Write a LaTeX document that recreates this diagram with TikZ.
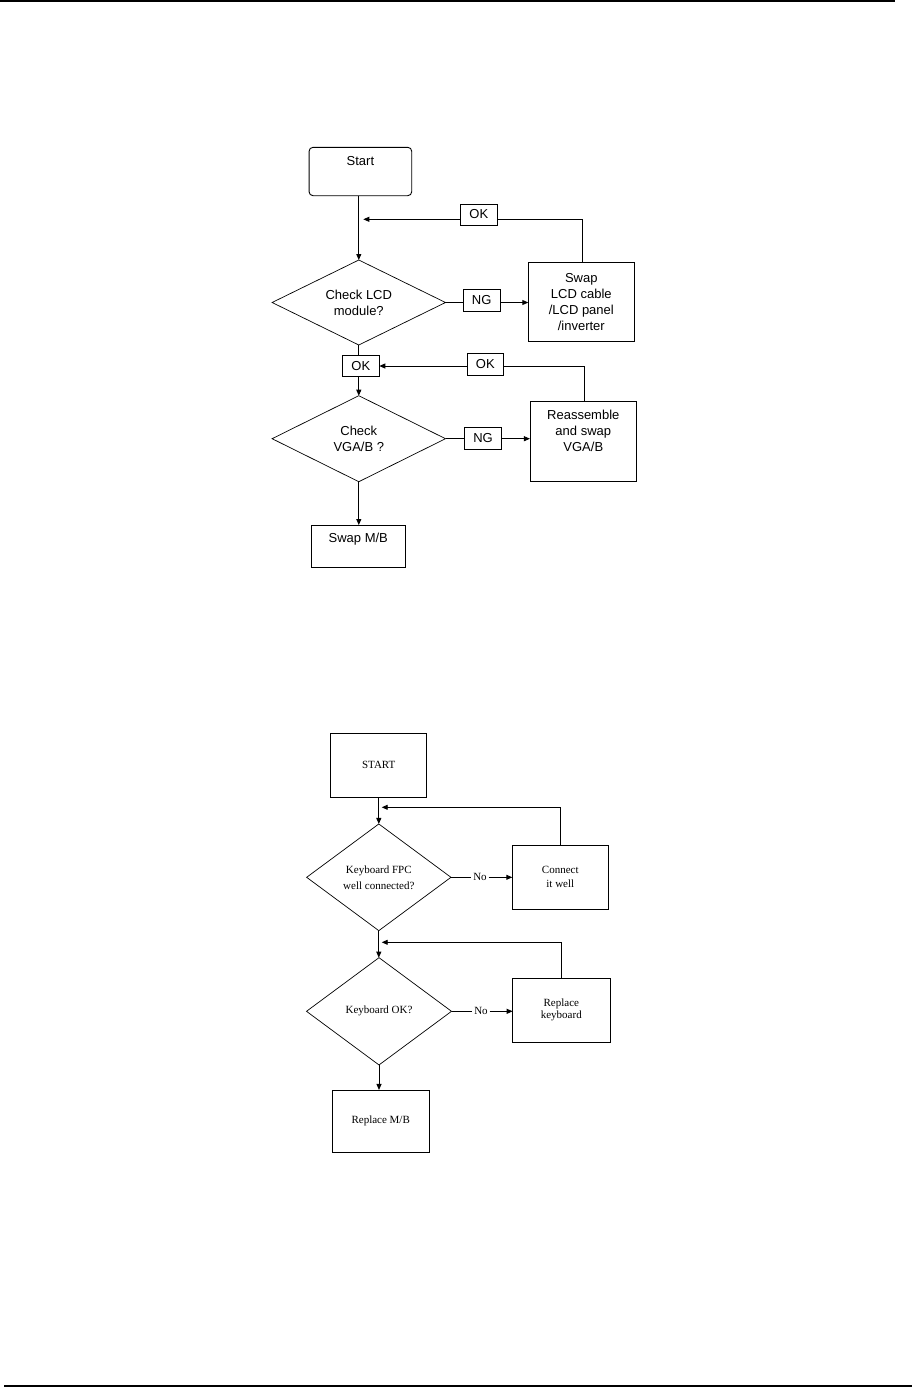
\documentclass[tikz,border=0pt]{standalone}
\usepackage{fontspec}
\newfontfamily\arialf{Liberation Sans}
\newfontfamily\timesf{Liberation Serif}
\usetikzlibrary{shapes.geometric,arrows.meta}
\begin{document}
\begin{tikzpicture}[x=1pt,y=-1pt,
  every node/.style={inner sep=0pt,outer sep=0pt},
  line/.style={draw=black,line width=0.9pt},
  arr/.style={line,-{Triangle[length=6pt,width=5pt]}},
  boxA/.style={draw=black,line width=0.9pt,rectangle,align=center,font=\arialf\fontsize{13}{16}\selectfont},
  rboxA/.style={boxA,rounded corners=4pt},
  dmA/.style={draw=black,line width=0.7pt,diamond,aspect=2,align=center,font=\arialf\fontsize{13}{16}\selectfont},
  txtA/.style={align=center,font=\arialf\fontsize{13}{16}\selectfont},
  boxB/.style={draw=black,line width=0.9pt,rectangle,align=center,font=\timesf\fontsize{11}{14}\selectfont},
  dmB/.style={draw=black,line width=0.7pt,diamond,aspect=1.35,align=center,font=\timesf\fontsize{11}{16}\selectfont},
  txtB/.style={align=center,font=\timesf\fontsize{11}{14}\selectfont,fill=white,inner xsep=2pt}
]
\useasboundingbox (0,0) rectangle (912,1387);
% page rules
\coordinate (tl) at (0,0.75);
\coordinate (tr) at (895,0.75);
\coordinate (bl) at (4,1386);
\coordinate (br) at (912,1386);
\draw[line width=1.5pt] (tl) -- (tr);
\draw[line width=1.5pt] (bl) -- (br);

% ---------- chart 1 ----------
\node[rboxA,minimum width=102.7pt,minimum height=48.4pt] (start) at (360.4,171.5) {};
\node[txtA] (startT) at (360.4,160.7) {Start};
\node[dmA,minimum width=173.4pt,minimum height=85pt] (d1) at (358.8,302.5) {Check LCD\\module?};
\node[boxA,minimum width=36.7pt,minimum height=22.4pt] (ngA) at (481.7,300.5) {NG};
\node[boxA,minimum width=106pt,minimum height=78.7pt] (swap) at (581.3,301.7) {Swap\\LCD cable\\/LCD panel\\/inverter};
\node[boxA,minimum width=37.7pt,minimum height=21pt] (okA) at (478.8,214.5) {OK};
\coordinate (cA) at (582.3,219.3);
\coordinate (eA) at (363.3,219.3);

\node[boxA,minimum width=37pt,minimum height=20.3pt] (okB) at (360.8,365.8) {OK};
\node[boxA,minimum width=36pt,minimum height=21.7pt] (okC) at (485.3,364.2) {OK};
\coordinate (cC) at (584.3,366);
\node[dmA,minimum width=173.4pt,minimum height=86pt] (d2) at (358.8,438.7) {Check\\VGA/B ?};
\node[boxA,minimum width=37.4pt,minimum height=21.6pt] (ngB) at (483,438.5) {NG};
\node[boxA,minimum width=106.7pt,minimum height=79.3pt] (reas) at (583.3,441.3) {};
\node[txtA] (reasT) at (583.3,430.5) {Reassemble\\and swap\\VGA/B};
\node[boxA,minimum width=94.7pt,minimum height=42.3pt] (swapmb) at (358.3,546.2) {};
\node[txtA] (swapmbT) at (358.3,539.5) {Swap M/B};

\draw[arr] (start.south -| d1.north) -- (d1.north);
\draw[line] (swap.north -| cA) -- (cA) -- (okA.east |- cA);
\draw[arr] (okA.west |- cA) -- (eA);
\draw[line] (d1.east) -- (ngA.west |- d1.east);
\draw[arr] (ngA.east |- d1.east) -- (swap.west |- d1.east);
\draw[line] (d1.south) -- (d1.south |- okB.north);
\draw[arr] (d1.south |- okB.south) -- (d2.north);
\draw[line] (reas.north -| cC) -- (cC) -- (okC.east |- cC);
\draw[arr] (okC.west |- cC) -- (okB.east |- cC);
\draw[line] (d2.east) -- (ngB.west |- d2.east);
\draw[arr] (ngB.east |- d2.east) -- (reas.west |- d2.east);
\draw[arr] (d2.south) -- (d2.south |- swapmb.north);

% ---------- chart 2 ----------
\node[boxB,minimum width=96pt,minimum height=64pt] (startB) at (378.7,765.3) {START};
\node[dmB,minimum width=144.3pt,minimum height=106.7pt] (d3) at (378.8,877.3) {Keyboard FPC\\well connected?};
\node[boxB,minimum width=96pt,minimum height=64pt] (conn) at (560.3,877) {Connect\\it well};
\node[txtB] (noA) at (480,876.9) {No};
\coordinate (cD) at (560.3,807.3);
\coordinate (eD) at (381.7,807.3);

\node[dmB,minimum width=145pt,minimum height=107.3pt] (d4) at (379,1011.3) {Keyboard OK?};
\node[boxB,minimum width=97.3pt,minimum height=64pt,font=\timesf\fontsize{11}{12}\selectfont] (repk) at (561.3,1010.3) {Replace\\keyboard};
\node[txtB] (noB) at (481,1010.9) {No};
\coordinate (cE) at (561.7,942.3);
\coordinate (eE) at (381.7,942.3);
\node[boxB,minimum width=96.7pt,minimum height=62.7pt] (repmb) at (380.7,1121.3) {Replace M/B};

\draw[arr] (startB.south -| d3.north) -- (d3.north);
\draw[arr] (conn.north) -- (cD) -- (eD);
\draw[line] (d3.east) -- (noA.west |- d3.east);
\draw[arr] (noA.east |- d3.east) -- (conn.west |- d3.east);
\draw[arr] (d3.south) -- (d3.south |- d4.north);
\draw[arr] (repk.north -| cE) -- (cE) -- (eE);
\draw[line] (d4.east) -- (noB.west |- d4.east);
\draw[arr] (noB.east |- d4.east) -- (repk.west |- d4.east);
\draw[arr] (d4.south) -- (d4.south |- repmb.north);
\end{tikzpicture}
\end{document}
